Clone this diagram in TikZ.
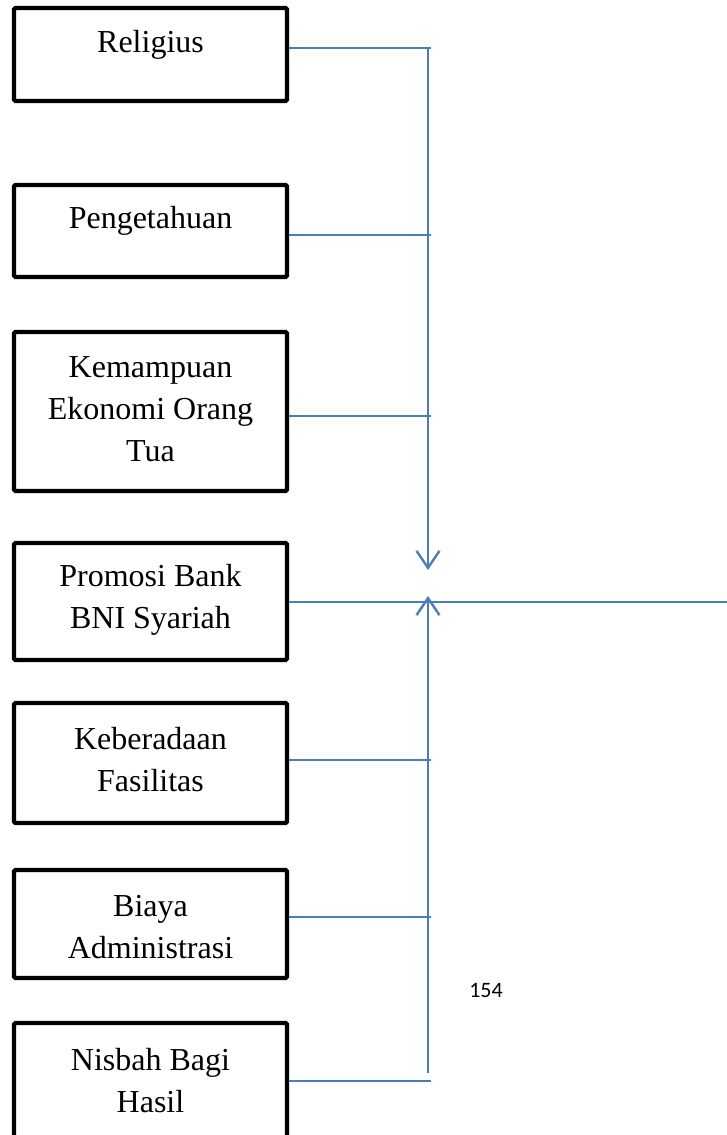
\documentclass[tikz,border=0pt]{standalone}
\usepackage{fontspec}
\setmainfont{Liberation Serif}
\newfontfamily\calib{Carlito}
\usetikzlibrary{arrows.meta}
\definecolor{conn}{RGB}{74,126,187}
\begin{document}
\begin{tikzpicture}[x=1pt,y=-1pt,
  boxnode/.style={draw=black,line width=4.3pt,rounded corners=1.5pt,minimum width=273pt,inner sep=0pt},
  txt/.style={font=\fontsize{32}{42}\selectfont,align=center,inner sep=0pt},
  connline/.style={draw=conn,line width=2.4pt},
  tip/.style={-{Straight Barb[length=17pt,width=23pt,line width=2.4pt]}}]
\clip (0,0) rectangle (727,1135);
\fill[white] (0,0) rectangle (727,1135);
% boxes
\node[boxnode,minimum height=93pt] (b1) at (150.5,54.5) {};
\node[boxnode,minimum height=92pt] (b2) at (150.5,231) {};
\node[boxnode,minimum height=159pt] (b3) at (150.5,411.5) {};
\node[boxnode,minimum height=117pt] (b4) at (150.5,601.5) {};
\node[boxnode,minimum height=120pt] (b5) at (150.5,763) {};
\node[boxnode,minimum height=108pt] (b6) at (150.5,924) {};
\node[boxnode,minimum height=140pt] (b7) at (150.5,1093) {};
% texts
\node[txt] (t1) at (150.5,45) {Religius};
\node[txt] (t2) at (150.5,221) {Pengetahuan};
\node[txt] (t3) at (150.5,409) {Kemampuan\\Ekonomi Orang\\Tua};
\node[txt] (t4) at (150.5,600) {Promosi Bank\\BNI Syariah};
\node[txt] (t5) at (150.5,760) {Keberadaan\\Fasilitas};
\node[txt] (t6) at (150.5,927) {Biaya\\Administrasi};
\node[txt] (t7) at (150.5,1081) {Nisbah Bagi\\Hasil};
\node[font=\calib\fontsize{22}{26}\selectfont,inner sep=0pt] (num) at (486,990) {154};
% junctions
\coordinate (j1) at (431,48);
\coordinate (j2) at (431,235);
\coordinate (j3) at (431,416);
\coordinate (j4) at (727,602);
\coordinate (j5) at (431,760);
\coordinate (j6) at (431,917);
\coordinate (j7) at (431,1081);
\coordinate (vtop) at (428,48);
\coordinate (downtip) at (428,570);
\coordinate (uptip) at (428,596);
\coordinate (vbot) at (428,1073);
% connectors
\draw[connline] (b1.east |- j1) -- (j1);
\draw[connline] (b2.east |- j2) -- (j2);
\draw[connline] (b3.east |- j3) -- (j3);
\draw[connline] (b4.east |- j4) -- (j4);
\draw[connline] (b5.east |- j5) -- (j5);
\draw[connline] (b6.east |- j6) -- (j6);
\draw[connline] (b7.east |- j7) -- (j7);
\draw[connline,tip] (vtop) -- (downtip);
\draw[connline,tip] (vbot) -- (uptip);
\end{tikzpicture}
\end{document}
